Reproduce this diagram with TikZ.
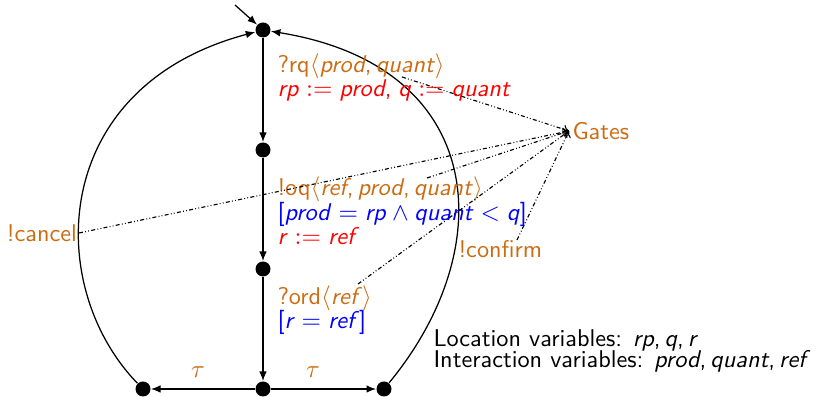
\documentclass[tikz,border=0pt]{standalone}
\usetikzlibrary{arrows.meta}
\definecolor{orangeA}{RGB}{204,108,18}
\newcommand\lfont{\fontsize{9.7}{9.8}\selectfont\sffamily}
\newcommand\vr[1]{\textit{#1}}
\begin{document}
\begin{tikzpicture}[x=0.4pt,y=-0.4pt,
  every node/.style={font=\lfont},
  st/.style={circle,fill=black,inner sep=0pt,minimum size=6pt},
  tr/.style={draw,line width=0.5pt,-{Latex[length=3.8pt,width=3pt]}},
  gt/.style={draw,line width=0.45pt,dash pattern=on 1.6pt off 0.9pt on 0.35pt off 0.9pt on 0.35pt off 0.9pt,-{To[length=2.4pt,width=3.6pt]}},
  lab/.style={inner sep=0pt,anchor=base west}]
\useasboundingbox (0,0) rectangle (822,397);
% states
\node[st] (s0) at (263,30) {};
\node[st] (s1) at (263,150) {};
\node[st] (s2) at (263,269) {};
\node[st] (s3) at (263,389) {};
\node[st] (sl) at (143,389) {};
\node[st] (sr) at (384,389) {};
\coordinate (init) at (235,5);
% transitions
\draw[tr] (init) -- (s0);
\draw[tr] (s0) -- (s1);
\draw[tr] (s1) -- (s2);
\draw[tr] (s2) -- (s3);
\draw[tr] (s3) -- (sl);
\draw[tr] (s3) -- (sr);
\draw[tr] (sl) .. controls (44,287) and (48,87) .. (s0);
\draw[tr] (sr) .. controls (502,246) and (486,66) .. (s0);
% labels
\node[lab,text=orangeA] (rq) at (277,73) {?rq$\langle$\vr{prod},\,\vr{quant}$\rangle$};
\node[lab,text=red] (rqa) at (277,97) {\vr{rp}${}:={}$\vr{prod},\;\vr{q}${}:={}$\vr{quant}};
\node[lab,text=orangeA] (oq) at (277,196) {!oq$\langle$\vr{ref},\,\vr{prod},\,\vr{quant}$\rangle$};
\node[lab,text=blue] (oqg) at (277,221) {[\vr{prod}${}={}$\vr{rp}${}\wedge{}$\vr{quant}${}<{}$\vr{q}]};
\node[lab,text=red] (oqa) at (277,245) {\vr{r}${}:={}$\vr{ref}};
\node[lab,text=orangeA] (ord) at (277,305) {?ord$\langle$\vr{ref}$\rangle$};
\node[lab,text=blue] (ordg) at (277,329) {[\vr{r}${}={}$\vr{ref}]};
\node[text=orangeA] (t1) at (198,372) {$\tau$};
\node[text=orangeA] (t2) at (313,372) {$\tau$};
\node[text=orangeA,anchor=west,inner sep=1.2pt] (gates) at (569,131) {Gates};
\node[text=orangeA,anchor=east,inner sep=0.6pt] (cancel) at (79,233) {!cancel};
\node[lab,text=orangeA] (confirm) at (458,258) {!confirm};
\node[lab] (loc) at (433,347) {Location variables: \vr{rp},\,\vr{q},\,\vr{r}};
\node[lab] (inter) at (433,368) {Interaction variables: \vr{prod},\,\vr{quant},\,\vr{ref}};
% gate lines
\coordinate (g1) at (402,77);
\coordinate (g3) at (427,178);
\coordinate (g4) at (358,284);
\coordinate (g5) at (517,240);
\draw[gt] (g1) -- (gates.west);
\draw[gt] (cancel.east) -- (gates.west);
\draw[gt] (g3) -- (gates.west);
\draw[gt] (g4) -- (gates.west);
\draw[gt] (g5) -- (gates.west);
\end{tikzpicture}
\end{document}
